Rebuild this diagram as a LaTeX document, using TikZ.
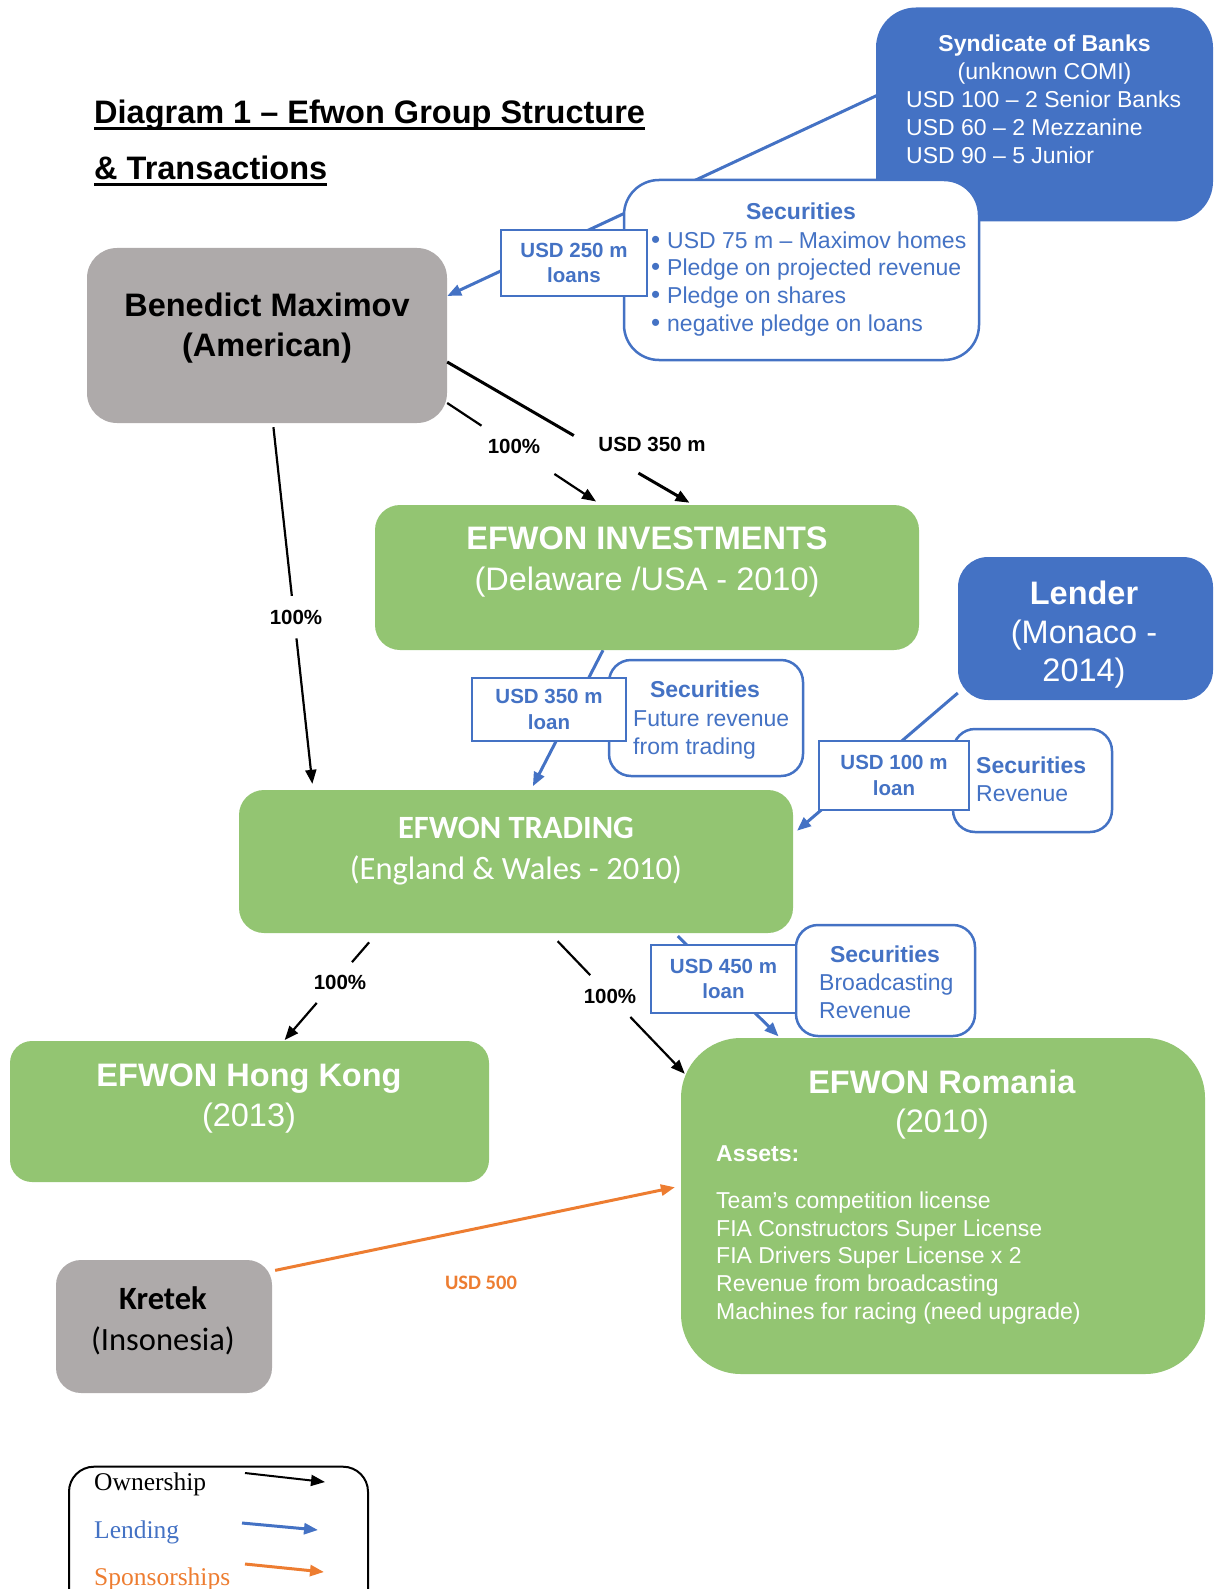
\documentclass[tikz,border=0pt]{standalone}
\usepackage{fontspec}
\setmainfont{Liberation Sans}
\newfontfamily\cfont{Carlito}
\newfontfamily\legfont{Liberation Serif}
\usetikzlibrary{arrows.meta,calc}
\definecolor{wblue}{RGB}{68,114,196}
\definecolor{wgreen}{RGB}{147,197,114}
\definecolor{wgray}{RGB}{174,170,170}
\definecolor{worange}{RGB}{237,125,49}
\newcommand{\blt}{\makebox[16pt][l]{\fontsize{26}{26}\selectfont •}}
\pgfdeclarelayer{bg}
\pgfsetlayers{bg,main}
\begin{document}
\begin{tikzpicture}[x=1pt,y=-1pt,
  box/.style={rectangle, inner sep=0pt, draw=none},
  gbox/.style={box, fill=wgreen},
  bbox/.style={box, fill=wblue},
  ybox/.style={box, fill=wgray},
  secbox/.style={box, fill=white, draw=wblue, line width=2.5pt},
  loanbox/.style={rectangle, fill=white, draw=wblue, line width=1.4pt, inner sep=0pt, align=center, text=wblue, font=\fontsize{20.5}{25.5}\selectfont\bfseries},
  wtxt/.style={inner sep=0pt, text=white},
  btxt/.style={inner sep=0pt, text=wblue},
  ktxt/.style={inner sep=0pt, text=black},
  bigf/.style={font=\fontsize{32.5}{#1}\selectfont},
  medf/.style={font=\fontsize{23}{#1}\selectfont},
  medb/.style={font=\fontsize{23}{27.7}\selectfont\bfseries},
  pct/.style={inner sep=0pt, text=black, font=\fontsize{20.5}{24}\selectfont\bfseries},
  legt/.style={inner sep=0pt, font=\legfont\fontsize{25.5}{30}\selectfont},
  ttl/.style={inner sep=0pt, font=\fontsize{32.5}{40}\selectfont\bfseries},
  ownline/.style={line width=2.2pt, draw=black},
  ownarrow/.style={ownline, -{Triangle[length=14pt,width=11pt]}},
  lendarrow/.style={line width=3pt, draw=wblue, -{Triangle[length=14pt,width=11pt]}},
  sponarrow/.style={line width=3pt, draw=worange, -{Triangle[length=14pt,width=11pt]}}
]
\useasboundingbox (0,0) rectangle (1213,1589);
\clip (0,0) rectangle (1213,1589);

% ---------- title
\node[ttl, anchor=base west] (t1) at (94,124) {Diagram 1 – Efwon Group Structure};
\node[ttl, anchor=base west] (t2) at (94,180) {\& Transactions};
\draw[line width=3pt] ([yshift=-5pt]t1.base west) -- ([yshift=-5pt]t1.base east);
\draw[line width=3pt] ([yshift=-5pt]t2.base west) -- ([yshift=-5pt]t2.base east);

% ---------- syndicate
\node[bbox, rounded corners=40pt, minimum width=337pt, minimum height=214pt] (syn) at (1044.5,114.5) {};
\node[wtxt, align=center, medf=27.8] (synA) at (1044.5,59.8) {\textbf{Syndicate of Banks}\\(unknown COMI)};
\node[wtxt, align=left, anchor=west, medf=27.8] (synB) at (906,127.2) {USD 100 – 2 Senior Banks\\USD 60 – 2 Mezzanine\\USD 90 – 5 Junior};

% ---------- securities 1
\node[secbox, rounded corners=35pt, minimum width=355pt, minimum height=180pt] (sec1) at (801.5,270) {};
\node[btxt, medb] (sec1h) at (801,211) {Securities};
\node[btxt, anchor=west, align=left, medf=27.7] (sec1l) at (651,283.8) {\blt USD 75 m – Maximov homes\\\blt Pledge on projected revenue\\\blt Pledge on shares\\\blt negative pledge on loans};
\node[loanbox, minimum width=146pt, minimum height=66pt] (loan1) at (574,263) {USD 250 m\\loans};

% ---------- Benedict
\node[ybox, rounded corners=30pt, minimum width=360pt, minimum height=175pt] (ben) at (267,335.5) {};
\node[ktxt, align=center, font=\fontsize{32.5}{39.5}\selectfont\bfseries] (benT) at (267,328) {Benedict Maximov\\(American)};

% ---------- Investments
\node[gbox, rounded corners=25pt, minimum width=544pt, minimum height=145pt] (inv) at (647,577.5) {};
\node[wtxt, align=center, bigf=41] (invT) at (647,561.8) {\textbf{EFWON INVESTMENTS}\\(Delaware /USA - 2010)};

% ---------- Lender
\node[bbox, rounded corners=30pt, minimum width=255pt, minimum height=143pt] (lend) at (1085.5,628.5) {};
\node[wtxt, align=center, bigf=38.5] (lendT) at (1084,634.8) {\textbf{Lender}\\(Monaco -\\2014)};

% ---------- securities 2
\node[secbox, rounded corners=22pt, minimum width=194pt, minimum height=116pt] (sec2) at (706,718) {};
\node[btxt, medb] (sec2h) at (705,689) {Securities};
\node[btxt, anchor=west, align=left, medf=28.5] (sec2l) at (633,734.8) {Future revenue\\from trading};
\node[loanbox, minimum width=154pt, minimum height=63pt] (loan2) at (549,709.5) {USD 350 m\\loan};

% ---------- securities 3
\node[secbox, rounded corners=22pt, minimum width=159pt, minimum height=103pt] (sec3) at (1032.5,780.5) {};
\node[btxt, anchor=west, align=left, medf=27.5] (sec3l) at (976,779.5) {\textbf{Securities}\\Revenue};
\node[loanbox, minimum width=150pt, minimum height=69pt] (loan3) at (894,775.5) {USD 100 m\\loan};

% ---------- Trading
\node[gbox, rounded corners=25pt, minimum width=554pt, minimum height=143pt] (trd) at (516,861.5) {};
\node[wtxt, align=center, font=\cfont\fontsize{32.5}{41}\selectfont] (trdT) at (516,850.8) {\textbf{EFWON TRADING}\\(England \& Wales - 2010)};

% ---------- securities 4
\node[secbox, rounded corners=22pt, minimum width=179pt, minimum height=111pt] (sec4) at (885.5,980.5) {};
\node[btxt, medb] (sec4h) at (885,954) {Securities};
\node[btxt, anchor=west, align=left, medf=27.5] (sec4l) at (819,996.5) {Broadcasting\\Revenue};
\node[loanbox, minimum width=145pt, minimum height=68pt] (loan4) at (723.5,979) {USD 450 m\\loan};

% ---------- Hong Kong
\node[gbox, rounded corners=22pt, minimum width=479pt, minimum height=141pt] (hk) at (249.5,1111.5) {};
\node[wtxt, align=center, bigf=40] (hkT) at (249,1098.3) {\textbf{EFWON Hong Kong}\\(2013)};

% ---------- Romania
\node[gbox, rounded corners=60pt, minimum width=524pt, minimum height=336pt] (rom) at (943,1206) {};
\node[wtxt, align=center, bigf=39] (romT) at (942,1104.8) {\textbf{EFWON Romania}\\(2010)};
\node[wtxt, anchor=west, medb] (romA) at (716,1154) {Assets:};
\node[wtxt, anchor=west, align=left, medf=27.75] (romL) at (716,1257.8) {Team’s competition license\\FIA Constructors Super License\\FIA Drivers Super License x 2\\Revenue from broadcasting\\Machines for racing (need upgrade)};

% ---------- Kretek
\node[ybox, rounded corners=25pt, minimum width=216pt, minimum height=133pt] (kre) at (164,1326.5) {};
\node[ktxt, align=center, font=\cfont\fontsize{32.5}{41}\selectfont] (kreT) at (163,1320.8) {\textbf{Kretek}\\(Insonesia)};

% ---------- labels
\node[pct] (p1) at (514,446) {100\%};
\node[pct] (u350) at (652,444) {USD 350 m};
\node[pct] (p2) at (296,617) {100\%};
\node[pct] (p3) at (340,982) {100\%};
\node[pct] (p4) at (610,996) {100\%};
\node[inner sep=0pt, text=worange, font=\cfont\fontsize{20.5}{24}\selectfont\bfseries] (u500) at (481,1283) {USD 500};

% ---------- legend
\node[draw=black, line width=2pt, rounded corners=25pt, minimum width=299pt, minimum height=170pt, inner sep=0pt] (leg) at (218.5,1551.7) {};
\node[legt, anchor=west, text=black] (lo) at (94,1484.5) {Ownership};
\node[legt, anchor=west, text=wblue] (ll) at (94,1532.5) {Lending};
\node[legt, anchor=west, text=worange] (ls) at (94,1579.5) {Sponsorships};
\coordinate (lo1) at (245,1473); \coordinate (lo2) at (325,1482);
\coordinate (ll1) at (242,1523); \coordinate (ll2) at (318,1530);
\coordinate (ls1) at (245,1564); \coordinate (ls2) at (324,1572);
\draw[ownarrow, line width=2pt] (lo1) -- (lo2);
\draw[lendarrow] (ll1) -- (ll2);
\draw[sponarrow] (ls1) -- (ls2);

% ---------- connectors
\begin{pgfonlayer}{bg}
% lending
\draw[lendarrow, shorten <=-6pt] (syn.west |- 0,96) -- (ben.east |- 0,296);
\draw[lendarrow, shorten >=4pt] (inv.south -| 603,0) -- (trd.north -| 531,0);
\draw[lendarrow, shorten >=5pt] (lend.west |- 0,693) -- (trd.east |- 0,834);
\draw[lendarrow, shorten <=4pt, shorten >=2pt] (trd.south -| 675,0) -- (rom.north -| 780,0);
% sponsorship
\draw[sponarrow, shorten <=3pt, shorten >=6pt] (kre.east |- 0,1271) -- (rom.west |- 0,1186);
\end{pgfonlayer}

% ownership, each with a gap for its label
\path (ben.east |- 0,403) -- (inv.north -| 601,0) coordinate[pos=0.223] (o1a) coordinate[pos=0.697] (o1b);
\draw[ownline] (ben.east |- 0,403) -- (o1a);
\draw[ownarrow, shorten >=6pt] (o1b) -- (inv.north -| 601,0);

\path (ben.east |- 0,362) -- (inv.north -| 693,0) coordinate[pos=0.515] (o2a) coordinate[pos=0.778] (o2b);
\draw[ownline, line width=3pt] (ben.east |- 0,362) -- (o2a);
\draw[ownarrow, line width=3pt, shorten >=4pt] (o2b) -- (inv.north -| 693,0);

\path (ben.south -| 273,0) -- (trd.north -| 313,0) coordinate[pos=0.471] (o3a) coordinate[pos=0.587] (o3b);
\draw[ownline, shorten <=4pt] (ben.south -| 273,0) -- (o3a);
\draw[ownarrow, shorten >=6pt] (o3b) -- (trd.north -| 313,0);

\path (trd.south -| 377,0) -- (hk.north -| 284,0) coordinate[pos=0.085] (o4s) coordinate[pos=0.269] (o4a) coordinate[pos=0.648] (o4b);
\draw[ownline] (o4s) -- (o4a);
\draw[ownarrow, shorten >=1pt] (o4b) -- (hk.north -| 284,0);

\path (trd.south -| 550,0) -- ([shift={(4,36)}]rom.north west) coordinate[pos=0.057] (o5s) coordinate[pos=0.298] (o5a) coordinate[pos=0.596] (o5b);
\draw[ownline] (o5s) -- (o5a);
\draw[ownarrow] (o5b) -- ([shift={(4,36)}]rom.north west);
\end{tikzpicture}
\end{document}
